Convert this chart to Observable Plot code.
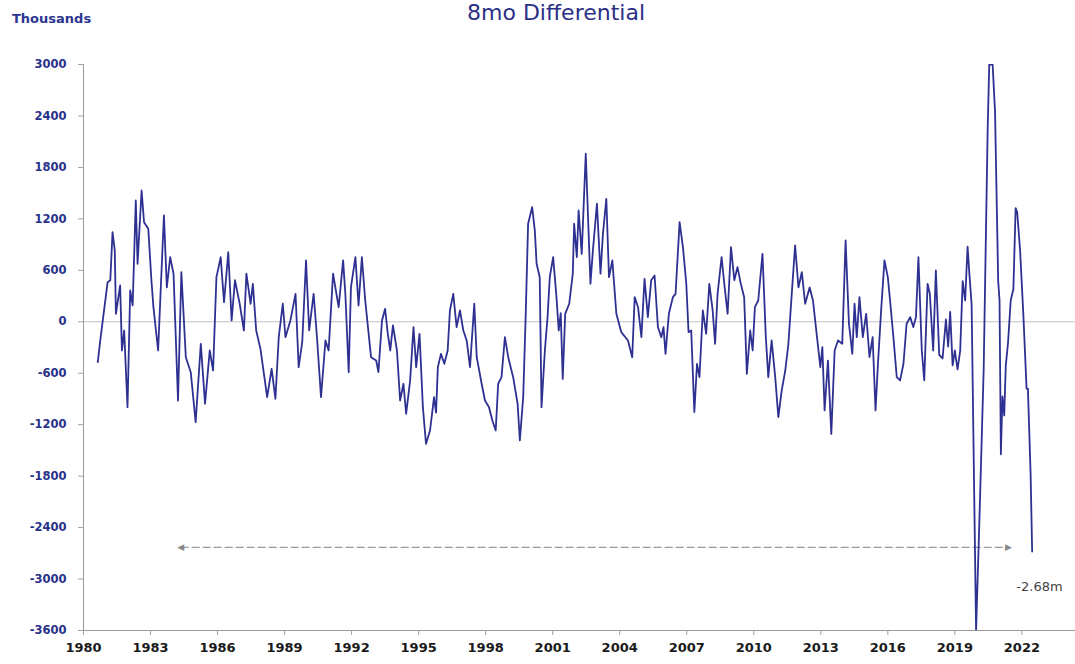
<!DOCTYPE html>
<html><head><meta charset="utf-8">
<script src="https://cdn.jsdelivr.net/npm/d3@7"></script>
<script src="https://cdn.jsdelivr.net/npm/@observablehq/plot@0.6"></script>
<style>
body{margin:0;background:#fff;}
#wrap{position:relative;width:1075px;height:664px;overflow:hidden;}
#title{position:absolute;top:2px;left:0;width:1112px;text-align:center;font-family:"DejaVu Sans",sans-serif;font-size:22px;line-height:22px;color:#2b2f86;}
#units{position:absolute;left:12px;top:12px;font-family:"DejaVu Sans",sans-serif;font-weight:bold;font-size:13px;line-height:13px;color:#2b3590;}
.c g[aria-label="x-axis tick label"], .c g[aria-label="y-axis tick label"]{font-weight:bold;}
</style></head>
<body>
<div id="wrap">
<div id="title">8mo Differential</div>
<div id="units">Thousands</div>
<div id="chart"></div>
</div>
<script>
const dates = [1980.64,1980.75,1981.08,1981.2,1981.3,1981.4,1981.45,1981.64,1981.72,1981.82,1981.97,1982.09,1982.2,1982.34,1982.42,1982.6,1982.71,1982.9,1983.04,1983.13,1983.34,1983.46,1983.6,1983.73,1983.88,1984.03,1984.23,1984.38,1984.58,1984.8,1985.02,1985.25,1985.44,1985.65,1985.8,1985.95,1986.14,1986.29,1986.48,1986.63,1986.78,1986.99,1987.18,1987.29,1987.48,1987.58,1987.73,1987.92,1988.22,1988.42,1988.59,1988.74,1988.92,1989.04,1989.26,1989.49,1989.63,1989.79,1989.96,1990.1,1990.3,1990.45,1990.63,1990.83,1990.97,1991.17,1991.42,1991.62,1991.72,1991.87,1991.97,1992.17,1992.31,1992.46,1992.61,1992.87,1993.1,1993.2,1993.36,1993.5,1993.61,1993.73,1993.85,1994.03,1994.17,1994.32,1994.44,1994.62,1994.77,1994.89,1995.04,1995.19,1995.33,1995.51,1995.69,1995.78,1995.86,1996.0,1996.15,1996.3,1996.4,1996.55,1996.7,1996.85,1997.0,1997.15,1997.3,1997.49,1997.6,1997.82,1997.97,1998.15,1998.3,1998.45,1998.56,1998.71,1998.86,1999.01,1999.23,1999.43,1999.53,1999.68,1999.79,1999.9,2000.08,2000.2,2000.28,2000.42,2000.5,2000.65,2000.77,2000.87,2001.02,2001.17,2001.27,2001.36,2001.45,2001.56,2001.74,2001.9,2001.96,2002.08,2002.16,2002.3,2002.48,2002.69,2002.8,2002.98,2003.14,2003.25,2003.4,2003.52,2003.67,2003.85,2004.07,2004.37,2004.56,2004.67,2004.82,2004.97,2005.11,2005.26,2005.41,2005.56,2005.71,2005.86,2005.96,2006.05,2006.2,2006.38,2006.5,2006.68,2006.83,2006.98,2007.08,2007.2,2007.34,2007.46,2007.57,2007.72,2007.87,2008.01,2008.16,2008.27,2008.38,2008.56,2008.68,2008.83,2008.98,2009.13,2009.27,2009.42,2009.57,2009.69,2009.84,2009.95,2010.05,2010.2,2010.39,2010.54,2010.65,2010.8,2010.96,2011.1,2011.25,2011.41,2011.55,2011.7,2011.85,2012.0,2012.15,2012.3,2012.5,2012.65,2012.83,2012.98,2013.07,2013.17,2013.32,2013.47,2013.62,2013.77,2013.96,2014.11,2014.26,2014.41,2014.51,2014.61,2014.73,2014.88,2015.03,2015.18,2015.32,2015.45,2015.55,2015.7,2015.85,2016.0,2016.1,2016.25,2016.4,2016.55,2016.7,2016.84,2017.0,2017.14,2017.26,2017.37,2017.52,2017.63,2017.78,2017.88,2018.03,2018.15,2018.3,2018.45,2018.6,2018.7,2018.79,2018.9,2019.0,2019.12,2019.24,2019.35,2019.46,2019.57,2019.65,2019.75,2019.95,2020.1,2020.29,2020.47,2020.54,2020.69,2020.8,2020.84,2020.94,2021.0,2021.06,2021.13,2021.21,2021.28,2021.38,2021.5,2021.62,2021.72,2021.79,2021.92,2022.06,2022.21,2022.27,2022.39,2022.46];
const values = [-471,-218,462,485,1045,831,93,423,-335,-102,-996,365,190,1414,676,1531,1161,1084,485,170,-335,400,1239,400,753,560,-918,578,-413,-588,-1171,-257,-956,-335,-568,520,753,228,811,15,485,210,-102,560,210,443,-102,-316,-879,-548,-898,-180,210,-180,15,326,-530,-238,715,-100,326,-180,-879,-218,-335,560,170,715,326,-588,400,753,190,753,248,-413,-452,-588,15,151,-121,-335,-43,-335,-918,-723,-1073,-684,-62,-530,-140,-996,-1423,-1268,-879,-1060,-530,-374,-490,-335,132,326,-62,132,-102,-218,-530,210,-413,-723,-918,-996,-1151,-1268,-723,-646,-180,-413,-646,-956,-1384,-879,54,1143,1336,1065,676,520,-996,-335,54,520,753,287,-102,100,-666,93,210,560,1143,753,1298,792,1959,443,831,1376,560,1026,1434,520,715,93,-121,-218,-413,287,170,-180,501,54,485,540,-62,-180,-62,-374,93,287,326,1162,870,443,-121,-102,-1053,-490,-646,132,-140,443,132,-257,326,753,443,93,870,485,637,443,287,-607,-102,-335,170,248,792,-180,-646,-218,-646,-1112,-801,-568,-257,326,890,400,578,210,400,248,-180,-530,-296,-1034,-452,-1307,-335,-218,-257,948,-23,-374,210,-180,287,-180,93,-413,-180,-1034,-530,132,715,520,248,-180,-646,-684,-490,-23,54,-62,54,753,-335,-684,443,326,-335,598,-385,-428,27,-290,116,-508,-335,-556,-335,473,248,876,560,204,-3600,-2305,-556,2265,3000,3000,2446,1863,473,248,-1545,-871,-1093,-508,-245,248,382,1325,1280,831,116,-780,-780,-1766,-2680];
const yTicks = [-3600,-3000,-2400,-1800,-1200,-600,0,600,1200,1800,2400,3000];
const xTicks = [1980,1983,1986,1989,1992,1995,1998,2001,2004,2007,2010,2013,2016,2019,2022];
const arrowSpan = [1984.35, 2021.4];
const arrowLevel = -2630;
const noteText = ["-2.68m"];
const notePos = [2021.75, -3090];

const data = dates.map((d, i) => ({date: d, value: values[i]}));
const arrow = [{x1: arrowSpan[0], x2: arrowSpan[1], y: arrowLevel}];
const heads = [{x: arrowSpan[0], t: "◀"}, {x: arrowSpan[1], t: "▶"}];

const chart = Plot.plot({
  width: 1075, height: 664,
  marginTop: 64, marginBottom: 34, marginLeft: 83, marginRight: 0,
  className: "c",
  style: {fontFamily: "DejaVu Sans", background: "#fff", overflow: "visible"},
  x: {domain: [1980, 2024.4], axis: null},
  y: {domain: [-3600, 3000], axis: null},
  marks: [
    Plot.ruleY([0], {stroke: "#c4c4c4", strokeWidth: 1}),
    Plot.ruleX([1980], {stroke: "#9a9a9a"}),
    Plot.ruleY([-3600], {stroke: "#9a9a9a"}),
    Plot.axisY(yTicks, {tickSize: 5, tickPadding: 12, tickFormat: d => String(d), stroke: "#a0a0a0", fill: "#27318a", fontSize: 11.5, fontWeight: "bold"}),
    Plot.axisX(xTicks, {tickSize: 5, tickPadding: 7, tickFormat: d => String(d), stroke: "#a0a0a0", fill: "#1a1a1a", fontSize: 13, fontWeight: "bold"}),
    Plot.link(arrow, {x1: "x1", x2: "x2", y1: "y", y2: "y", stroke: "#9a9a9a", strokeWidth: 1.3, strokeDasharray: "8,3"}),
    Plot.text(heads, {x: "x", y: () => arrowLevel, text: "t", fill: "#8a8a8a", fontSize: 9}),
    Plot.line(data, {x: "date", y: "value", stroke: "#2e3192", strokeWidth: 1.8, clip: true}),
    Plot.text(noteText, {x: () => notePos[0], y: () => notePos[1], text: d => d, textAnchor: "start", fill: "#444", fontSize: 13})
  ]
});
document.getElementById("chart").appendChild(chart);
</script>
</body></html>
